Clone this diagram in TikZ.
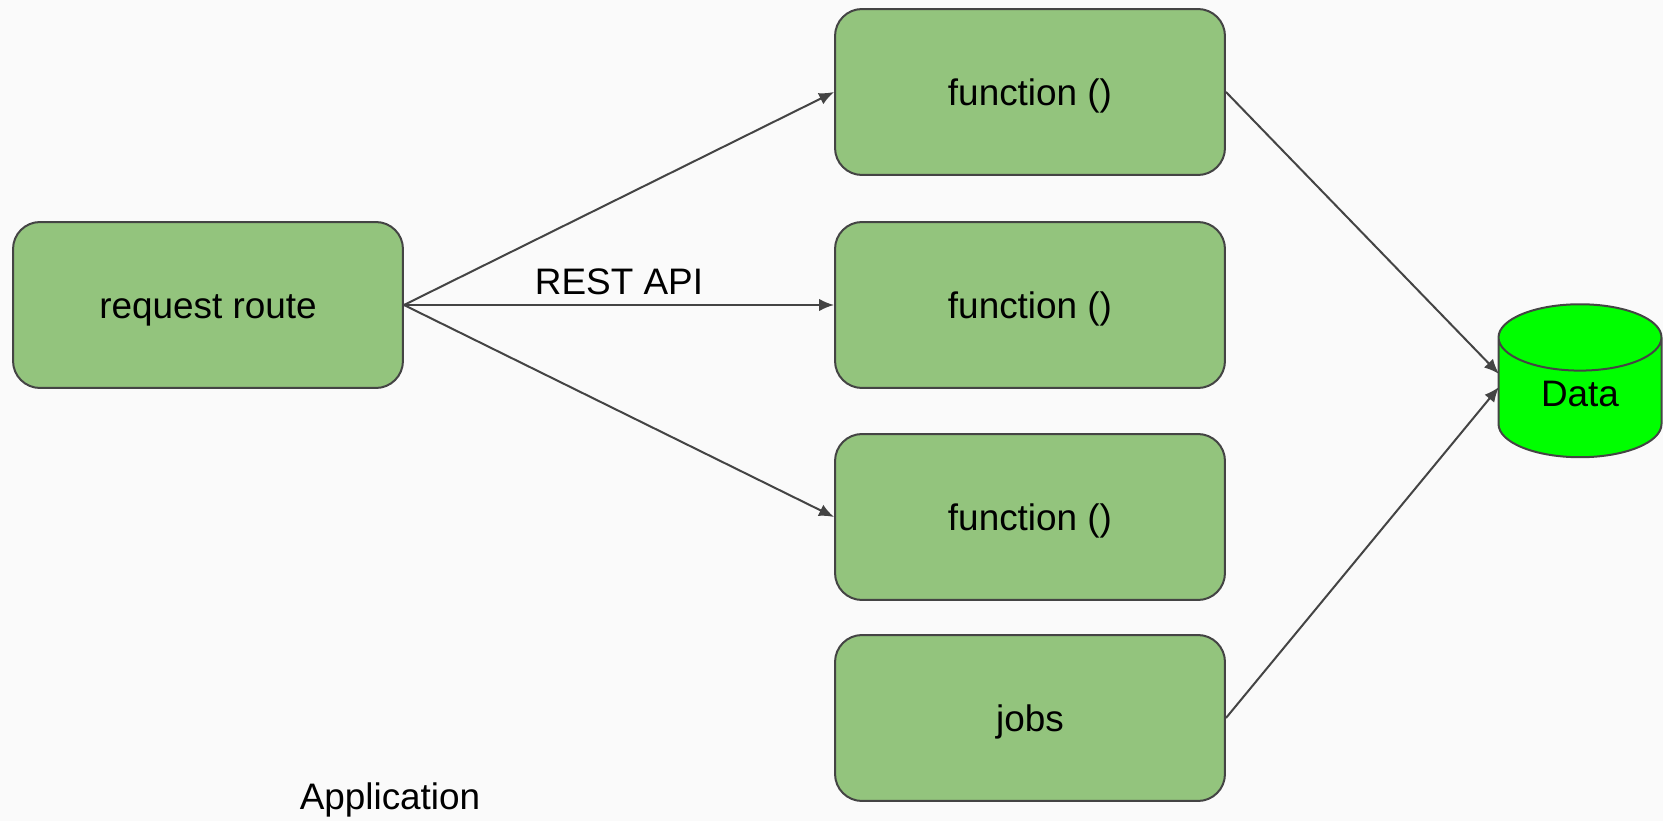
\documentclass[tikz,border=0pt]{standalone}
\usepackage{fontspec}
\setmainfont{Liberation Sans}
\usetikzlibrary{arrows.meta,shapes.geometric}

\definecolor{boxgreen}{HTML}{93C47D}
\definecolor{dbgreen}{HTML}{00FF00}
\definecolor{linegray}{HTML}{444444}
\definecolor{bggray}{HTML}{FAFAFA}

\tikzset{
	fbox/.style={draw=linegray, line width=0.04cm, fill=boxgreen, rounded corners=0.54cm,
		minimum width=7.8cm, minimum height=3.32cm, text height=20pt, text depth=4.6pt,
		font=\fontsize{21}{25}\selectfont},
	dbstore/.style={draw=linegray, line width=0.04cm, fill=dbgreen, cylinder, shape border rotate=90,
		aspect=0.74, minimum width=3.26cm, minimum height=3.06cm, text height=12pt, text depth=8.6pt,
		font=\fontsize{21}{25}\selectfont},
	link/.style={draw=linegray, line width=0.04cm, -{Latex[length=0.3cm,width=0.25cm]}}
}

\begin{document}
\begin{tikzpicture}[x=0.02cm, y=-0.02cm]
		\fill[bggray] (0,0) rectangle (1663,821);
		\useasboundingbox (0,0) rectangle (1663,821);
		\node[fbox] (route) at (208,305) {request route};
		\node[fbox] (fa) at (1030,92) {function ()};
		\node[fbox] (fb) at (1030,305) {function ()};
		\node[fbox] (fc) at (1030,517) {function ()};
		\node[fbox] (jobs) at (1030,718) {jobs};
		\node[dbstore] (data) at (1580,404) {Data};
		\coordinate (datain1) at (1499,374);
		\coordinate (datain2) at (1499,387);
		\node[anchor=base, font=\fontsize{21}{25}\selectfont] (app) at (390,809) {Application};
		\draw[link] (route.east) -- (fa.west);
		\draw[link] (route.east) -- node[above=0.07cm, font=\fontsize{21}{25}\selectfont]{REST API} (fb.west);
		\draw[link] (route.east) -- (fc.west);
		\draw[link] (fa.east) -- (datain1);
		\draw[link] (jobs.east) -- (datain2);
\end{tikzpicture}
\end{document}
